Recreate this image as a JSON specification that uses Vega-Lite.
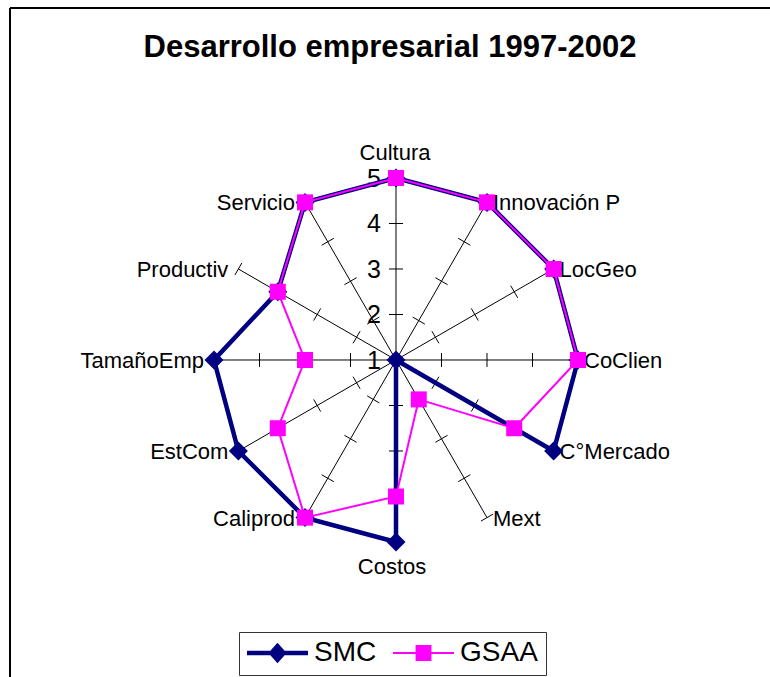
{
  "$schema": "https://vega.github.io/schema/vega-lite/v6.json",
  "width": 760,
  "height": 669,
  "padding": {"left": 10, "top": 8, "right": 0, "bottom": 0},
  "autosize": {"type": "none"},
  "background": "white",
  "config": {
    "view": {"stroke": "#000", "strokeWidth": 2, "strokeDash": [760, 1429, 669, 0]},
    "font": "Liberation Sans",
    "legend": {
      "orient": "none",
      "legendX": 229,
      "legendY": 624,
      "direction": "horizontal",
      "title": null,
      "strokeColor": "#333",
      "strokeWidth": 1,
      "fillColor": "white",
      "padding": 8,
      "symbolSize": 3721,
      "clipHeight": 26,
      "symbolStrokeWidth": 0,
      "symbolOpacity": 1,
      "labelFont": "Liberation Sans",
      "labelFontSize": 28,
      "labelColor": "#000",
      "labelOffset": 6,
      "columnPadding": 16,
      "symbolOffset": 0
    }
  },
  "title": {
    "text": "Desarrollo empresarial 1997-2002",
    "font": "Liberation Sans",
    "fontSize": 31,
    "fontWeight": "bold",
    "color": "#000",
    "anchor": "middle",
    "offset": -30,
    "baseline": "alphabetic",
    "dy": 50
  },
  "datasets": {
    "puntajes": [
      {"eje": "Cultura", "SMC": 5, "GSAA": 5},
      {"eje": "Innovación P", "SMC": 5, "GSAA": 5},
      {"eje": "LocGeo", "SMC": 5, "GSAA": 5},
      {"eje": "CoClien", "SMC": 5, "GSAA": 5},
      {"eje": "C°Mercado", "SMC": 5, "GSAA": 4},
      {"eje": "Mext", "SMC": 1, "GSAA": 2},
      {"eje": "Costos", "SMC": 5, "GSAA": 4},
      {"eje": "Caliprod", "SMC": 5, "GSAA": 5},
      {"eje": "EstCom", "SMC": 5, "GSAA": 4},
      {"eje": "TamañoEmp", "SMC": 5, "GSAA": 3},
      {"eje": "Productiv", "SMC": 4, "GSAA": 4},
      {"eje": "Servicio", "SMC": 5, "GSAA": 5}
    ],
    "escala": [{"v": 1}, {"v": 2}, {"v": 3}, {"v": 4}, {"v": 5}]
  },
  "layer": [
    {
      "data": {"name": "puntajes"},
      "transform": [
        {"window": [{"op": "row_number", "as": "k"}]},
        {"calculate": "(datum.k-1)*PI/6", "as": "a"},
        {"calculate": "0", "as": "o"},
        {"calculate": "4*sin(datum.a)", "as": "ex"},
        {"calculate": "4*cos(datum.a)", "as": "ey"}
      ],
      "mark": {"type": "rule", "color": "#000", "strokeWidth": 1},
      "encoding": {
        "x": {"field": "o", "type": "quantitative", "scale": {"domain": [-8.4835, 8.2198], "nice": false, "zero": false}, "axis": null},
        "y": {"field": "o", "type": "quantitative", "scale": {"domain": [-6.967, 7.736], "nice": false, "zero": false}, "axis": null},
        "x2": {"field": "ex"},
        "y2": {"field": "ey"}
      }
    },
    {
      "data": {"name": "puntajes"},
      "transform": [
        {"window": [{"op": "row_number", "as": "k"}]},
        {"calculate": "(datum.k-1)*PI/6", "as": "a"},
        {"calculate": "[2,3,4,5]", "as": "t"},
        {"flatten": ["t"]},
        {"calculate": "(datum.t-1)*sin(datum.a) + 0.154*cos(datum.a)", "as": "tx1"},
        {"calculate": "(datum.t-1)*cos(datum.a) - 0.154*sin(datum.a)", "as": "ty1"},
        {"calculate": "(datum.t-1)*sin(datum.a) - 0.154*cos(datum.a)", "as": "tx2"},
        {"calculate": "(datum.t-1)*cos(datum.a) + 0.154*sin(datum.a)", "as": "ty2"}
      ],
      "mark": {"type": "rule", "color": "#000", "strokeWidth": 1},
      "encoding": {
        "x": {"field": "tx1", "type": "quantitative", "scale": {"domain": [-8.4835, 8.2198], "nice": false, "zero": false}, "axis": null},
        "y": {"field": "ty1", "type": "quantitative", "scale": {"domain": [-6.967, 7.736], "nice": false, "zero": false}, "axis": null},
        "x2": {"field": "tx2"},
        "y2": {"field": "ty2"}
      }
    },
    {
      "data": {"name": "escala"},
      "transform": [
        {"calculate": "0", "as": "o"},
        {"calculate": "datum.v-1", "as": "yv"}
      ],
      "mark": {"type": "text", "align": "right", "baseline": "middle", "dx": -15, "dy": 1, "fontSize": 25, "font": "Liberation Sans", "color": "#000"},
      "encoding": {
        "x": {"field": "o", "type": "quantitative", "scale": {"domain": [-8.4835, 8.2198], "nice": false, "zero": false}, "axis": null},
        "y": {"field": "yv", "type": "quantitative", "scale": {"domain": [-6.967, 7.736], "nice": false, "zero": false}, "axis": null},
        "text": {"field": "v", "type": "quantitative"}
      }
    },
    {
      "data": {"name": "puntajes"},
      "transform": [
        {"window": [{"op": "row_number", "as": "k"}]},
        {"calculate": "(datum.k-1)*PI/6", "as": "a"},
        {"calculate": "4*sin(datum.a)", "as": "lx"},
        {"calculate": "4*cos(datum.a)", "as": "ly"}
      ],
      "encoding": {
        "x": {"field": "lx", "type": "quantitative", "scale": {"domain": [-8.4835, 8.2198], "nice": false, "zero": false}, "axis": null},
        "y": {"field": "ly", "type": "quantitative", "scale": {"domain": [-6.967, 7.736], "nice": false, "zero": false}, "axis": null},
        "text": {"field": "eje", "type": "nominal"}
      },
      "layer": [
        {
          "transform": [{"filter": "datum.k == 1"}],
          "mark": {"type": "text", "align": "center", "baseline": "alphabetic", "dy": -18, "dx": -1, "fontSize": 22, "font": "Liberation Sans", "color": "#000"}
        },
        {
          "transform": [{"filter": "datum.k >= 2 && datum.k <= 6"}],
          "mark": {"type": "text", "align": "left", "baseline": "middle", "dx": 6, "dy": 1, "fontSize": 22, "font": "Liberation Sans", "color": "#000"}
        },
        {
          "transform": [{"filter": "datum.k == 7"}],
          "mark": {"type": "text", "align": "center", "baseline": "alphabetic", "dy": 32, "dx": -4, "fontSize": 22, "font": "Liberation Sans", "color": "#000"}
        },
        {
          "transform": [{"filter": "datum.k >= 8"}],
          "mark": {"type": "text", "align": "right", "baseline": "middle", "dx": -10, "dy": 1, "fontSize": 22, "font": "Liberation Sans", "color": "#000"}
        }
      ]
    },
    {
      "data": {"name": "puntajes"},
      "transform": [
        {"window": [{"op": "row_number", "as": "k"}]},
        {"fold": ["SMC", "GSAA"], "as": ["serie", "v"]},
        {"calculate": "datum.k == 1 ? [1, 13] : [datum.k]", "as": "ks"},
        {"flatten": ["ks"]},
        {"calculate": "(datum.ks-1)*PI/6", "as": "b"},
        {"calculate": "(datum.v-1)*sin(datum.b)", "as": "px"},
        {"calculate": "(datum.v-1)*cos(datum.b)", "as": "py"}
      ],
      "encoding": {
        "x": {"field": "px", "type": "quantitative", "scale": {"domain": [-8.4835, 8.2198], "nice": false, "zero": false}, "axis": null},
        "y": {"field": "py", "type": "quantitative", "scale": {"domain": [-6.967, 7.736], "nice": false, "zero": false}, "axis": null}
      },
      "layer": [
        {
          "transform": [{"filter": "datum.serie == 'SMC'"}],
          "mark": {"type": "line", "color": "#000080", "strokeWidth": 4.5},
          "encoding": {"order": {"field": "ks", "type": "quantitative"}}
        },
        {
          "transform": [{"filter": "datum.serie == 'SMC' && datum.ks <= 12"}],
          "mark": {"type": "point", "shape": "diamond", "filled": true, "color": "#000080", "size": 361, "opacity": 1}
        },
        {
          "transform": [{"filter": "datum.serie == 'GSAA'"}],
          "mark": {"type": "line", "color": "#FF00FF", "strokeWidth": 2},
          "encoding": {"order": {"field": "ks", "type": "quantitative"}}
        },
        {
          "transform": [{"filter": "datum.serie == 'GSAA' && datum.ks <= 12"}],
          "mark": {"type": "point", "shape": "square", "filled": true, "color": "#FF00FF", "size": 256, "opacity": 1}
        },
        {
          "transform": [{"filter": "datum.ks <= 12"}],
          "mark": {"type": "point", "filled": true, "opacity": 0},
          "encoding": {
            "color": {
              "field": "serie",
              "type": "nominal",
              "scale": {"domain": ["SMC", "GSAA"], "range": ["#000080", "#FF00FF"]},
              "legend": {"title": null}
            },
            "shape": {
              "field": "serie",
              "type": "nominal",
              "scale": {
                "domain": ["SMC", "GSAA"],
                "range": [
                  "M-1,-0.07H1V0.07H-1Z M0,-0.34L0.3,0L0,0.34L-0.3,0Z",
                  "M-1,-0.033H1V0.033H-1Z M-0.26,-0.26H0.26V0.26H-0.26Z"
                ]
              },
              "legend": {"title": null}
            }
          }
        }
      ]
    }
  ]
}
